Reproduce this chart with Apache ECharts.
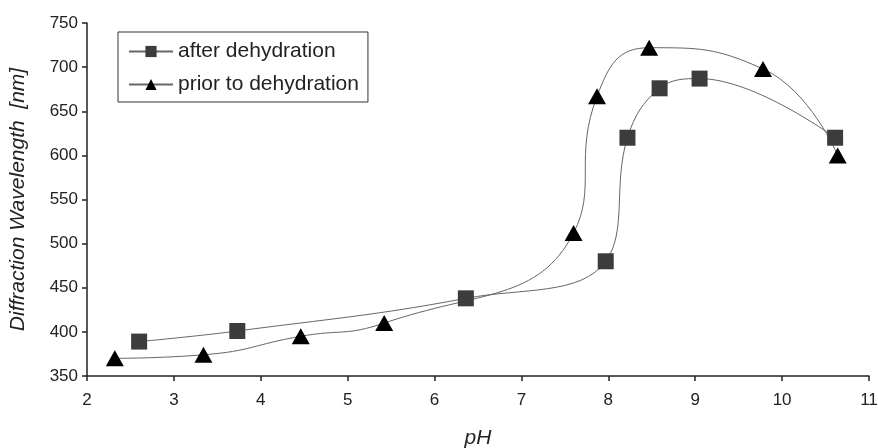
<!DOCTYPE html>
<html>
<head>
<meta charset="utf-8">
<script src="https://cdn.jsdelivr.net/npm/echarts@6/dist/echarts.min.js"></script>
<style>
html, body { margin: 0; padding: 0; background: #fff; }
#chart { width: 878px; height: 448px; }
</style>
</head>
<body>
<div id="chart"></div>
<script>
// pH values and diffraction wavelengths (nm)
var phAfter = [2.60, 3.73, 6.36, 7.97, 8.22, 8.59, 9.05, 10.61];
var wlAfter = [389, 401, 438, 480, 620, 676, 687, 620];
var phPrior = [2.32, 3.34, 4.46, 5.42, 7.60, 7.87, 8.47, 9.78, 10.64];
var wlPrior = [370, 374, 395, 410, 512, 667, 722, 698, 600];
var xTicks = [2, 3, 4, 5, 6, 7, 8, 9, 10, 11];
var yTicks = [350, 400, 450, 500, 550, 600, 650, 700, 750];

function pairs(xs, ys) {
    var out = [];
    for (var i = 0; i < xs.length; i++) {
        out.push([xs[i], ys[i]]);
    }
    return out;
}

var myChart = echarts.init(document.getElementById('chart'));
var font = 'Liberation Sans, Arial, sans-serif';

var option = {
    backgroundColor: '#fff',
    animation: false,
    grid: { left: 87, right: 9, top: 23, bottom: 72, outerBoundsMode: 'none', containLabel: false },
    legend: {
        orient: 'vertical',
        left: 118,
        top: 32,
        padding: [9, 9, 7, 10],
        borderColor: '#333',
        borderWidth: 1,
        itemWidth: 44,
        itemHeight: 14,
        itemGap: 12,
        textStyle: { fontFamily: font, fontSize: 21, color: '#222' },
        data: ['after dehydration', 'prior to dehydration']
    },
    xAxis: {
        type: 'value',
        min: xTicks[0],
        max: xTicks[xTicks.length - 1],
        interval: 1,
        name: 'pH',
        nameLocation: 'middle',
        nameGap: 52,
        nameTextStyle: { fontFamily: font, fontSize: 21, fontStyle: 'italic', color: '#222' },
        axisLine: { lineStyle: { color: '#222', width: 1.5 } },
        axisTick: { length: 5, lineStyle: { color: '#222', width: 1.5 } },
        axisLabel: { fontFamily: font, fontSize: 17, color: '#222', margin: 16 },
        splitLine: { show: false }
    },
    yAxis: {
        type: 'value',
        min: yTicks[0],
        max: yTicks[yTicks.length - 1],
        interval: 50,
        name: 'Diffraction Wavelength  [nm]',
        nameLocation: 'middle',
        nameGap: 58,
        nameTextStyle: { fontFamily: font, fontSize: 21, fontStyle: 'italic', color: '#222' },
        axisLine: { show: true, lineStyle: { color: '#222', width: 1.5 } },
        axisTick: { show: true, length: 5, lineStyle: { color: '#222', width: 1.5 } },
        axisLabel: { fontFamily: font, fontSize: 17, color: '#222', margin: 9 },
        splitLine: { show: false }
    },
    series: [
        {
            name: 'after dehydration',
            type: 'line',
            smooth: 0.4,
            data: pairs(phAfter, wlAfter),
            symbol: 'rect',
            symbolSize: 16,
            itemStyle: { color: '#3c3c3c' },
            lineStyle: { color: '#666', width: 1 }
        },
        {
            name: 'prior to dehydration',
            type: 'line',
            smooth: 0.5,
            data: pairs(phPrior, wlPrior),
            symbol: 'triangle',
            symbolSize: [18, 16],
            itemStyle: { color: '#000' },
            lineStyle: { color: '#666', width: 1 }
        }
    ]
};

myChart.setOption(option);
</script>
</body>
</html>
